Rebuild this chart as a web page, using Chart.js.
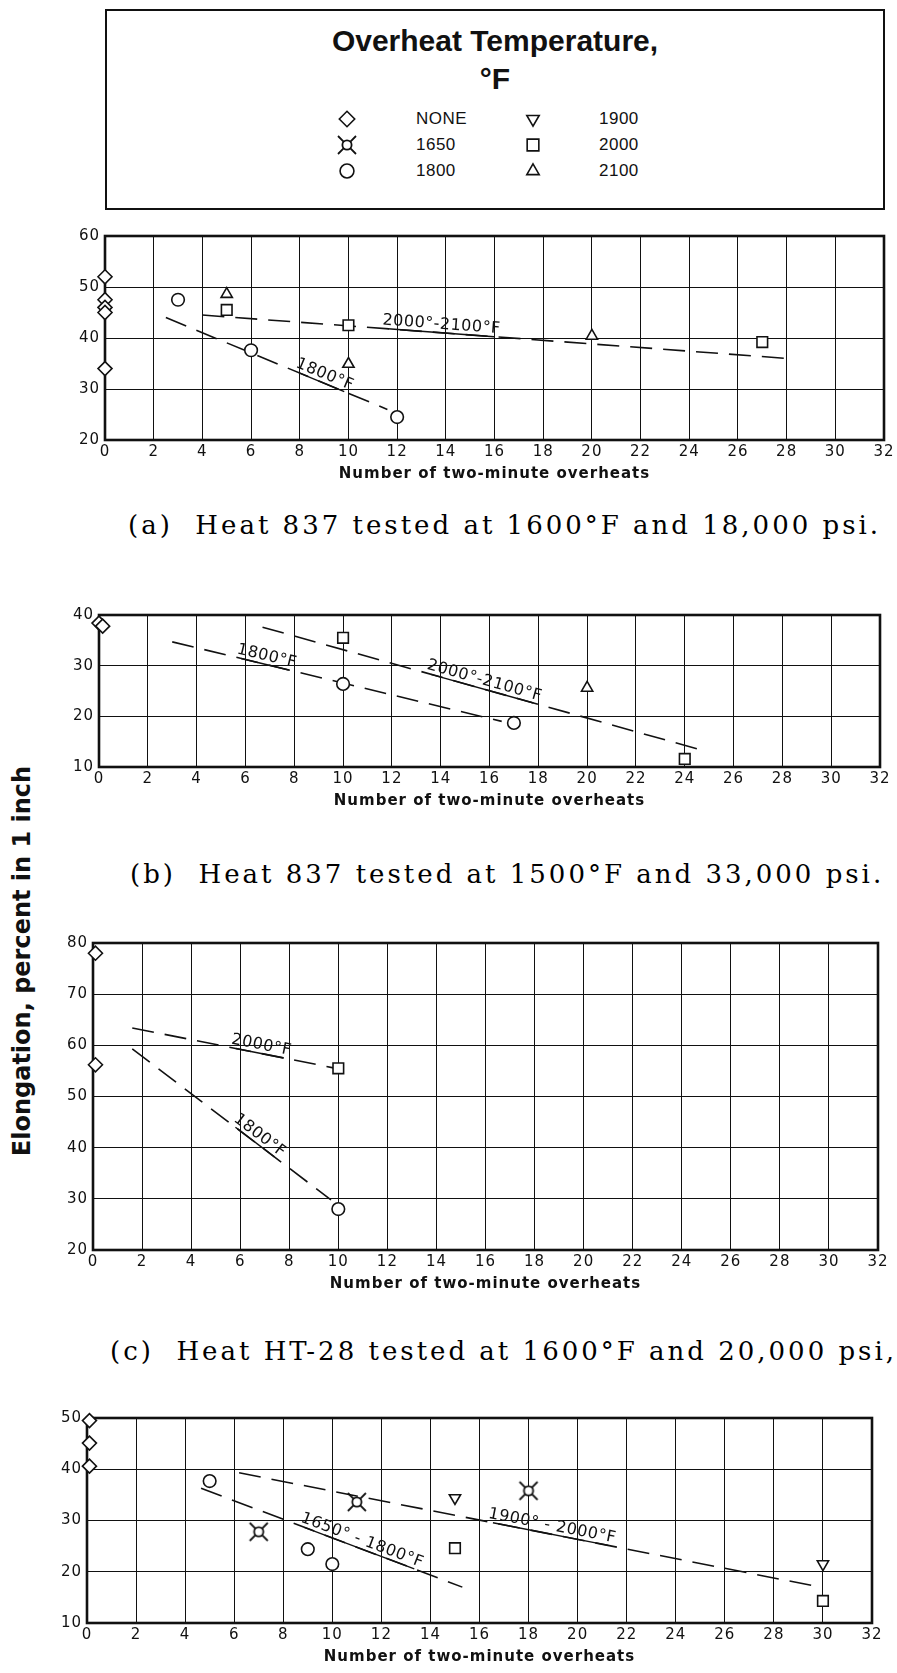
<!DOCTYPE html>
<html>
<head>
<meta charset="utf-8">
<script src="https://cdn.jsdelivr.net/npm/chart.js@4.4.1/dist/chart.umd.min.js"></script>
<style>
  body { margin: 0; background: #fff; width: 897px; height: 1673px; position: relative; overflow: hidden; color: #111; }
  .panel { position: absolute; }
  .key { position: absolute; left: 105px; top: 9px; width: 776px; height: 197px; border: 2px solid #111; }
  .key-title { position: absolute; left: 0; width: 100%; text-align: center; font: bold 30px "Liberation Sans", sans-serif; line-height: 34px; }
  .key-item { position: absolute; font: 17px "Liberation Sans", sans-serif; line-height: 20px; letter-spacing: 0.5px; }
  .key-item canvas { position: absolute; }
  .caption { position: absolute; white-space: pre; font: 26px "DejaVu Serif", serif; line-height: 30px; letter-spacing: 3px; color: #000; }
  .ytitle { position: absolute; width: 500px; height: 30px; line-height: 30px; text-align: center; font: bold 24px "DejaVu Sans", sans-serif; transform: rotate(-90deg); }
</style>
</head>
<body>
<div class="key" id="key">
  <div class="key-title" style="top:13px">Overheat Temperature,</div>
  <div class="key-title" style="top:51px">°F</div>
</div>
<div class="caption" style="left:128px; top:510px">(a)  Heat 837 tested at 1600°F and 18,000 psi.</div>
<div class="caption" style="left:130px; top:859px">(b)  Heat 837 tested at 1500°F and 33,000 psi.</div>
<div class="caption" style="left:110px; top:1336px">(c)  Heat HT-28 tested at 1600°F and 20,000 psi,</div>
<div class="ytitle" style="left:-227px; top:946px">Elongation, percent in 1 inch</div>

<script>
// shared axis
const xRange = [0, 32];
const xStep = 2;
const yStep = 10;
const xTitle = 'Number of two-minute overheats';
const legendLabels = ['NONE', '1650', '1800', '1900', '2000', '2100'];

// (a) Heat 837, 1600°F and 18,000 psi
const aYRange = [20, 60];
const aNone = [[0, 52], [0, 47.5], [0, 46], [0, 45], [0, 34]];
const a1800 = [[3, 47.5], [6, 37.6], [12, 24.5]];
const a2000 = [[5, 45.5], [10, 42.5], [27, 39.2]];
const a2100 = [[5, 48.6], [10, 34.9], [20, 40.4]];
const aFit1800 = [[2.5, 44], [11.6, 26]];
const aFit2000 = [[4, 44.5], [28, 36]];

// (b) Heat 837, 1500°F and 33,000 psi
const bYRange = [10, 40];
const bNone = [[0, 38.4], [0.15, 37.8]];
const b1800 = [[10, 26.4], [17, 18.7]];
const b2000 = [[10, 35.5], [24, 11.6]];
const b2100 = [[20, 25.6]];
const bFit1800 = [[3, 34.7], [16.5, 19]];
const bFit2000 = [[6.7, 37.6], [24.5, 13.6]];

// (c) Heat HT-28, 1600°F and 20,000 psi
const cYRange = [20, 80];
const cNone = [[0.1, 78], [0.1, 56.2]];
const c1800 = [[10, 28]];
const c2000 = [[10, 55.5]];
const cFit1800 = [[1.6, 59.3], [9.7, 29.8]];
const cFit2000 = [[1.6, 63.4], [9.8, 55.6]];

// (d) Heat HT-28, second test
const dYRange = [10, 50];
const dNone = [[0.1, 49.5], [0.1, 45.1], [0.1, 40.6]];
const d1650 = [[7, 27.8], [11, 33.6], [18, 35.8]];
const d1800 = [[5, 37.7], [9, 24.4], [10, 21.5]];
const d1900 = [[15, 34.4], [30, 21.5]];
const d2000 = [[15, 24.6], [30, 14.3]];
const dFit1650 = [[4.65, 36.3], [15.3, 17]];
const dFit1900 = [[6.2, 39.3], [29.9, 17]];

const INK = '#111';
const SANS = '"DejaVu Sans", sans-serif';

// circle with four diagonal spurs, used for the 1650 series
function spurMark() {
  const c = document.createElement('canvas');
  c.width = 22; c.height = 22;
  const g = c.getContext('2d');
  g.strokeStyle = INK; g.lineWidth = 1.8; g.fillStyle = '#fff';
  g.beginPath(); g.arc(11, 11, 4.6, 0, Math.PI * 2); g.fill(); g.stroke();
  g.beginPath();
  [[-1, -1], [1, -1], [-1, 1], [1, 1]].forEach(([sx, sy]) => {
    g.moveTo(11 + sx * 3.2, 11 + sy * 3.2);
    g.lineTo(11 + sx * 9, 11 + sy * 9);
  });
  g.stroke();
  return c;
}

const styles = {
  NONE: { pointStyle: 'rectRot', radius: 7, rotation: 0 },
  1650: { pointStyle: spurMark(), radius: 10, rotation: 0 },
  1800: { pointStyle: 'circle', radius: 6.3, rotation: 0 },
  1900: { pointStyle: 'triangle', radius: 6.5, rotation: 180 },
  2000: { pointStyle: 'rect', radius: 7.5, rotation: 0 },
  2100: { pointStyle: 'triangle', radius: 6.5, rotation: 0 },
};

const pts = arr => arr.map(([x, y]) => ({ x, y }));

function marks(arr, key) {
  const s = styles[key];
  return {
    data: pts(arr), pointStyle: s.pointStyle, rotation: s.rotation, pointRadius: s.radius,
    borderColor: INK, backgroundColor: '#fff', pointBorderWidth: 1.6,
    showLine: false, clip: false, order: 0,
  };
}

function fit(arr, tag, tagAt) {
  return {
    data: pts(arr), showLine: true, borderColor: INK, borderWidth: 1.6, borderDash: [22, 11],
    pointRadius: 0, clip: false, order: 1, tag, tagAt,
  };
}

// thick frame round the plotting area
const framePlugin = {
  id: 'framePlugin',
  beforeDraw(chart) { chart.ctx.letterSpacing = '1px'; },
  beforeDatasetsDraw(chart) {
    const { ctx, chartArea: { left, top, right, bottom } } = chart;
    ctx.save();
    ctx.lineWidth = 2.6;
    ctx.strokeStyle = INK;
    ctx.strokeRect(left, top, right - left, bottom - top);
    ctx.restore();
  }
};

// curve names written along the dashed fits, sitting on an underline
const tagPlugin = {
  id: 'tagPlugin',
  afterDatasetsDraw(chart) {
    const { ctx, scales: { x, y } } = chart;
    chart.data.datasets.forEach(ds => {
      if (!ds.tag) return;
      const [p0, p1] = ds.data;
      const x0 = x.getPixelForValue(p0.x), y0 = y.getPixelForValue(p0.y);
      const x1 = x.getPixelForValue(p1.x), y1 = y.getPixelForValue(p1.y);
      const t = (ds.tagAt - p0.x) / (p1.x - p0.x);
      const px = x0 + (x1 - x0) * t, py = y0 + (y1 - y0) * t;
      ctx.save();
      ctx.translate(px, py);
      ctx.rotate(Math.atan2(y1 - y0, x1 - x0));
      ctx.font = '16px ' + SANS;
      ctx.letterSpacing = '0.5px';
      ctx.fillStyle = INK;
      ctx.textAlign = 'center';
      ctx.textBaseline = 'alphabetic';
      const w = ctx.measureText(ds.tag).width;
      ctx.fillText(ds.tag, 0, -4);
      ctx.strokeStyle = INK;
      ctx.lineWidth = 1.4;
      ctx.beginPath();
      ctx.moveTo(-w / 2 + 6, 0);
      ctx.lineTo(w / 2 - 6, 0);
      ctx.stroke();
      ctx.restore();
    });
  }
};

const PAD_L = 70, PAD_T = 20, PAD_R = 25, PAD_B = 50;

function panel(box, yRange, datasets) {
  const [L, T, R, B] = box;
  const wrap = document.createElement('div');
  wrap.className = 'panel';
  wrap.style.left = (L - PAD_L) + 'px';
  wrap.style.top = (T - PAD_T) + 'px';
  const canvas = document.createElement('canvas');
  canvas.width = R - L + PAD_L + PAD_R;
  canvas.height = B - T + PAD_T + PAD_B;
  wrap.appendChild(canvas);
  document.body.appendChild(wrap);

  const tickFont = { family: SANS, size: 15 };
  return new Chart(canvas.getContext('2d'), {
    type: 'scatter',
    data: { datasets },
    plugins: [framePlugin, tagPlugin],
    options: {
      responsive: false,
      animation: false,
      devicePixelRatio: 1,
      layout: { padding: { left: 0, top: PAD_T, right: PAD_R, bottom: 0 } },
      plugins: { legend: { display: false }, tooltip: { enabled: false } },
      scales: {
        x: {
          type: 'linear', min: xRange[0], max: xRange[1],
          ticks: { stepSize: xStep, font: tickFont, color: INK, padding: 3, maxRotation: 0, autoSkip: false },
          grid: { color: INK, lineWidth: 1, drawTicks: false },
          border: { display: false },
          title: { display: true, text: xTitle, color: INK, font: { family: SANS, size: 15, weight: 'bold' }, padding: { top: 0, bottom: 7 } },
          afterFit(s) { s.height = PAD_B; },
        },
        y: {
          type: 'linear', min: yRange[0], max: yRange[1],
          ticks: { stepSize: yStep, font: tickFont, color: INK, padding: 5 },
          grid: { color: INK, lineWidth: 1, drawTicks: false },
          border: { display: false },
          afterFit(s) { s.width = PAD_L; },
        },
      },
    },
  });
}

panel([105, 236, 884, 440], aYRange, [
  marks(aNone, 'NONE'), marks(a1800, 1800), marks(a2000, 2000), marks(a2100, 2100),
  fit(aFit1800, '1800°F', 8.9), fit(aFit2000, '2000°-2100°F', 13.8),
]);

panel([99, 615, 880, 767], bYRange, [
  marks(bNone, 'NONE'), marks(b1800, 1800), marks(b2000, 2000), marks(b2100, 2100),
  fit(bFit1800, '1800°F', 6.8), fit(bFit2000, '2000°-2100°F', 15.7),
]);

panel([93, 943, 878, 1250], cYRange, [
  marks(cNone, 'NONE'), marks(c1800, 1800), marks(c2000, 2000),
  fit(cFit1800, '1800°F', 6.6), fit(cFit2000, '2000°F', 6.8),
]);

panel([87, 1418, 872, 1623], dYRange, [
  marks(dNone, 'NONE'), marks(d1650, 1650), marks(d1800, 1800), marks(d1900, 1900), marks(d2000, 2000),
  fit(dFit1650, '1650° - 1800°F', 11.1), fit(dFit1900, '1900° - 2000°F', 18.9),
]);

// key: two columns of three symbols
const key = document.getElementById('key');
const keyCols = [[240, 309], [426, 492]];
const keyRows = [108, 134, 160];
legendLabels.forEach((label, i) => {
  const col = keyCols[Math.floor(i / 3)], row = keyRows[i % 3];
  const c = document.createElement('canvas');
  c.width = 24; c.height = 24;
  c.style.left = (col[0] - 12) + 'px';
  c.style.top = (row - 12) + 'px';
  c.style.position = 'absolute';
  key.appendChild(c);
  const g = c.getContext('2d');
  const s = styles[label];
  g.strokeStyle = INK; g.fillStyle = '#fff'; g.lineWidth = 1.6;
  Chart.helpers.drawPoint(g, { pointStyle: s.pointStyle, rotation: s.rotation, radius: s.radius * 1.1, borderWidth: 1.6 }, 12, 12);
  const t = document.createElement('div');
  t.className = 'key-item';
  t.textContent = label;
  t.style.left = col[1] + 'px';
  t.style.top = (row - 10) + 'px';
  key.appendChild(t);
});
</script>
</body>
</html>
